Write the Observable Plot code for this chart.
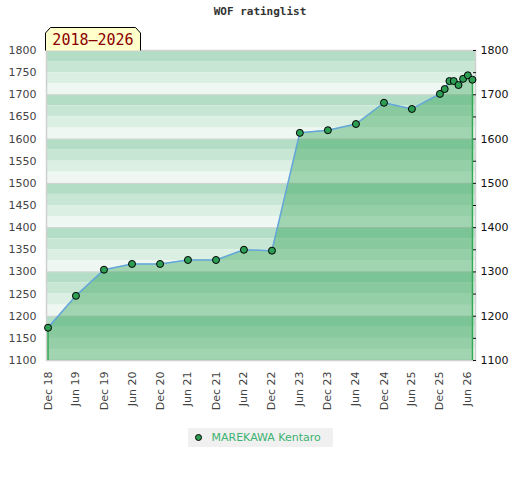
<!DOCTYPE html>
<html><head><meta charset="utf-8">
<script src="https://cdn.jsdelivr.net/npm/d3@7"></script>
<script src="https://cdn.jsdelivr.net/npm/@observablehq/plot@0.6"></script>
<style>
body{margin:0;background:#fff;font-family:"DejaVu Sans",sans-serif;}
#wrap{position:relative;width:520px;}
#head{position:relative;height:44px;}
#title{position:absolute;left:0;width:520px;top:5px;text-align:center;font:bold 11px "DejaVu Sans Mono",monospace;color:#333;}
#badge{position:absolute;left:45px;top:27px;}
#legend{margin:12px auto 0;width:145px;height:19px;background:#f0f0f0;display:flex;align-items:center;font:11px "DejaVu Sans",sans-serif;color:#3cb371;box-sizing:border-box;padding-left:7px;}
#legend .dot{width:7px;height:7px;border-radius:50%;background:#2e9e55;border:1px solid #000;margin-right:10px;box-sizing:border-box;}
</style></head>
<body>
<div id="wrap">
  <div id="head">
    <div id="title">WOF ratinglist</div>
    <svg id="badge" width="97" height="24">
      <path d="M0.5,23.5 L0.5,6 L5.5,0.5 L90.5,0.5 L95.5,6 L95.5,23.5" fill="#ffffcc" stroke="#000" stroke-width="1"/>
      <text x="48" y="18" text-anchor="middle" font-family="DejaVu Sans Mono" font-size="15" fill="#8b0000">2018–2026</text>
    </svg>
  </div>
  <div id="chart"></div>
  <div id="legend"><span class="dot"></span>MAREKAWA Kentaro</div>
</div>
<script>
const playerName = "MAREKAWA Kentaro";
const dates = ["2018-12-01","2019-06-01","2019-12-01","2020-06-01","2020-12-01","2021-06-01","2021-12-01","2022-06-01","2022-12-01","2023-06-01","2023-12-01","2024-06-01","2024-12-01","2025-06-01","2025-12-01","2026-01-01","2026-02-01","2026-03-01","2026-04-01","2026-05-01","2026-06-01","2026-07-01"];
const ratings = [1174,1246,1305,1318,1318,1327,1327,1350,1348,1614,1620,1634,1682,1668,1702,1713,1731,1731,1722,1736,1744,1734];
const yMin = 1100, yMax = 1800;
const bandColors = ["#b3dec5","#c8e6d4","#dcefe3","#eef7f1"];

const data = dates.map((d,i)=>({date:new Date(d), rating:ratings[i]}));
const bands = d3.range(yMin, yMax, 25).map(lo => ({lo, hi: lo+25, color: bandColors[((yMax - (lo+25))/25) % 4]}));
const xTicks = d3.utcMonth.range(new Date("2018-12-01"), new Date("2026-06-02")).filter(d => d.getUTCMonth()===5 || d.getUTCMonth()===11);
const first = data[0], last = data[data.length-1];

const chart = Plot.plot({
  width: 520, height: 372,
  marginLeft: 46, marginRight: 45, marginTop: 6, marginBottom: 56,
  style: {fontFamily: "DejaVu Sans, sans-serif", fontSize: "11px", background: "#fff"},
  x: {type: "utc", domain: [new Date("2018-11-21"), new Date("2026-07-21")]},
  y: {domain: [yMin, yMax]},
  marks: [
    ...bandColors.map(c => Plot.rect(bands.filter(b => b.color===c), {y1: "lo", y2: "hi", fill: c})),
    Plot.ruleY(d3.range(yMin+100, yMax, 100), {stroke: "#d4d4d4", strokeWidth: 1}),
    Plot.frame({stroke: "#d0d0d0", strokeWidth: 1.5}),
    Plot.areaY(data, {x: "date", y1: yMin, y2: "rating", fill: "rgb(26,150,64)", fillOpacity: 0.36}),
    Plot.ruleX([first, last], {x: "date", y1: yMin, y2: "rating", stroke: "#33aa55", strokeWidth: 1.5}),
    Plot.line(data, {x: "date", y: "rating", stroke: "#64a6dc", strokeWidth: 1.5}),
    Plot.dot(data, {x: "date", y: "rating", r: 3.5, fill: "#2e9e55", stroke: "#000", strokeWidth: 1}),
    Plot.axisY({anchor: "left", ticks: d3.range(yMin, yMax+1, 50), tickSize: 0, tickPadding: 10, tickFormat: d => String(d), color: "#444", label: null}),
    Plot.axisY({anchor: "right", ticks: d3.range(yMin, yMax+1, 50), tickSize: 3, tickPadding: 5, dx: -3, tickFormat: d => d % 100 === 0 ? String(d) : "", color: "#111", label: null}),
    Plot.axisX({ticks: xTicks, tickFormat: d3.utcFormat("%b %y"), tickRotate: -90, tickSize: 0, tickPadding: 11, color: "#444", label: null})
  ]
});
document.getElementById("chart").appendChild(chart);
</script>
</body></html>
